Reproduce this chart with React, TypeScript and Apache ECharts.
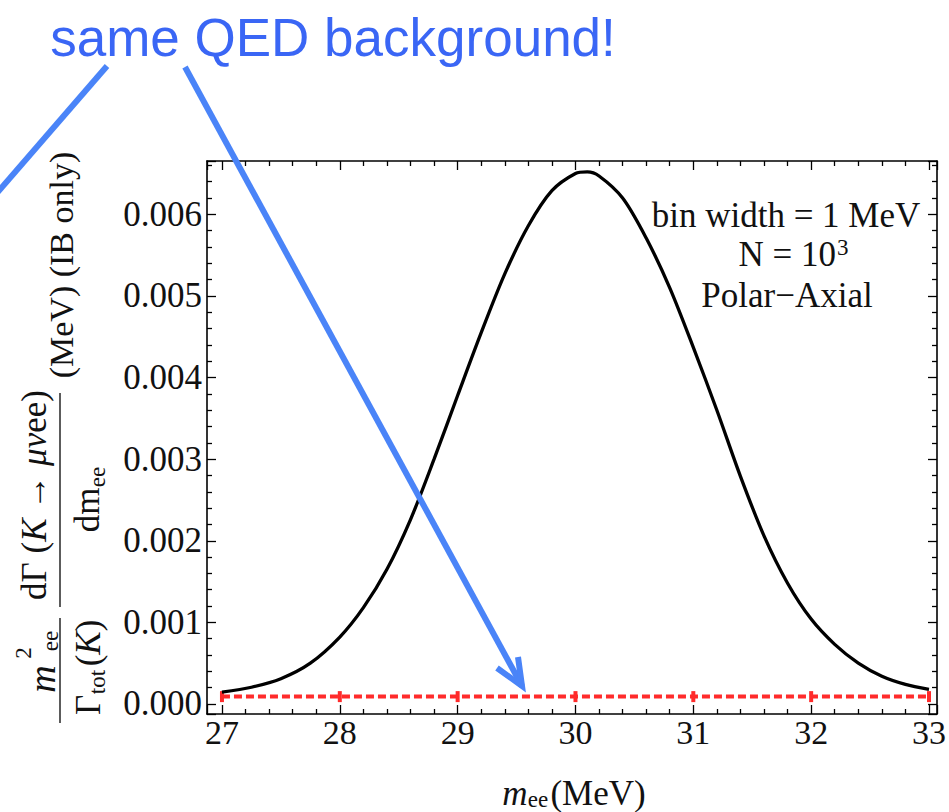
import React, { useEffect, useRef } from 'react';
import * as echarts from 'echarts';

// ---- data ----
const curveX = [27.0, 27.25, 27.5, 27.75, 28.0, 28.2, 28.4, 28.6, 28.8, 29.0, 29.2, 29.4, 29.6, 29.8, 30.0, 30.1, 30.2, 30.4, 30.6, 30.8, 31.0, 31.2, 31.4, 31.6, 31.8, 32.0, 32.2, 32.4, 32.6, 32.8, 33.0];
const curveY = [0.000145, 0.000205, 0.00031, 0.0005, 0.00082, 0.00118, 0.00165, 0.00226, 0.003, 0.00378, 0.00455, 0.00527, 0.00586, 0.00629, 0.0065, 0.00652, 0.00647, 0.0062, 0.00571, 0.0051, 0.00437, 0.0036, 0.00279, 0.00206, 0.00148, 0.00104, 0.00073, 0.0005, 0.00034, 0.00024, 0.00018];
const bgX = [27, 28, 29, 30, 31, 32, 33];
const bgY = [0.00009, 0.00009, 0.00009, 0.00009, 0.00009, 0.00009, 0.00009];
const xRange = [26.873, 33.068];
const yRange = [-0.000123, 0.006654];
const titleText = 'same QED background!';
const noteLines = ['bin width = 1 MeV', 'N = 10', '3', 'Polar\u2212Axial'];

const SERIF = '"Liberation Serif", "DejaVu Serif", serif';
const SANS = '"Liberation Sans", Arial, sans-serif';
const INK = '#111';
const R = Math.PI / 2;

function t(text: string, x: number, y: number, fs: number, o: any = {}) {
  return {
    type: 'text',
    x,
    y,
    rotation: o.rot || 0,
    z: 100,
    style: {
      text,
      font: `${o.italic ? 'italic ' : ''}${fs}px ${o.family || SERIF}`,
      fill: o.fill || INK,
      align: o.align || 'center',
      verticalAlign: 'middle',
      rich: o.rich,
    },
  };
}

function ln(x1: number, y1: number, x2: number, y2: number, w: number, c: string) {
  return { type: 'line', z: 100, shape: { x1, y1, x2, y2 }, style: { stroke: c, lineWidth: w } };
}

export default function App() {
  const ref = useRef<HTMLDivElement>(null);
  useEffect(() => {
    if (!ref.current) return;
    const chart = echarts.init(ref.current, undefined, { renderer: 'svg' });
    const tickStyle = { color: '#000', width: 1.3 };
    const axisCommon = {
      type: 'value',
      axisLine: { show: true, onZero: false, lineStyle: { color: '#000', width: 1.6 } },
      axisTick: { show: true, inside: true, length: 9, lineStyle: tickStyle },
      minorTick: { show: true, splitNumber: 5, length: 5, lineStyle: tickStyle },
      splitLine: { show: false },
      minorSplitLine: { show: false },
    };
    const isInt = (v: number, step: number) => Math.abs(v / step - Math.round(v / step)) < 1e-6;
    const BLUE = '#4a84f8';
    const rich = {
      a: { font: `35px ${SERIF}`, fill: INK },
      i: { font: `italic 35px ${SERIF}`, fill: INK },
    };
    chart.setOption({
      animation: false,
      backgroundColor: '#fff',
      grid: { left: 207, right: 12, top: 161, bottom: 98, containLabel: false },
      xAxis: [
        {
          ...axisCommon,
          position: 'bottom',
          min: xRange[0],
          max: xRange[1],
          splitNumber: 6,
          axisLabel: {
            show: true,
            margin: 1,
            fontSize: 34,
            fontFamily: SERIF,
            color: INK,
            formatter: (v: number) => (isInt(v, 1) ? String(Math.round(v)) : ''),
          },
        },
        {
          ...axisCommon,
          position: 'top',
          min: xRange[0],
          max: xRange[1],
          splitNumber: 6,
          axisLabel: { show: false },
        },
      ],
      yAxis: [
        {
          ...axisCommon,
          position: 'left',
          min: yRange[0],
          max: yRange[1],
          splitNumber: 6,
          axisLabel: {
            show: true,
            margin: 5,
            fontSize: 35,
            fontFamily: SERIF,
            color: INK,
            formatter: (v: number) => (isInt(v, 0.001) && v > -1e-9 ? v.toFixed(3) : ''),
          },
        },
        {
          ...axisCommon,
          position: 'right',
          min: yRange[0],
          max: yRange[1],
          splitNumber: 6,
          axisLabel: { show: false },
        },
      ],
      series: [
        {
          type: 'line',
          xAxisIndex: 0,
          yAxisIndex: 0,
          data: bgX.map((x, i) => [x, bgY[i]]),
          symbol: 'rect',
          symbolSize: [4, 11],
          showSymbol: true,
          itemStyle: { color: '#ff2b2b' },
          lineStyle: { color: '#ff2b2b', width: 4, type: [8, 4] },
          z: 2,
        },
        {
          type: 'line',
          xAxisIndex: 0,
          yAxisIndex: 0,
          data: curveX.map((x, i) => [x, curveY[i]]),
          smooth: 0.3,
          showSymbol: false,
          symbol: 'none',
          lineStyle: { color: '#000', width: 3.3 },
          z: 3,
        },
      ],
      graphic: [
        // y-axis title (rotated)
        t('(MeV) (IB only)', 61, 265, 34, { rot: R }),
        t('{a|d\u0393 (}{i|K}{a| \u2192 }{i|\u03bc\u03bd}{a|ee)}', 34, 495, 35, { rot: R, rich }),
        ln(60, 393, 60, 607, 1.6, '#333'),
        t('dm', 87, 510, 35, { rot: R }),
        t('ee', 97, 477, 23, { rot: R }),
        t('m', 42, 679, 38, { rot: R, italic: true }),
        t('2', 23, 653, 23, { rot: R }),
        t('ee', 50, 641, 23, { rot: R }),
        ln(60, 618, 60, 723, 1.6, '#333'),
        t('\u0393', 88, 705, 35, { rot: R }),
        t('tot', 97, 682, 23, { rot: R }),
        t('{a|(}{i|K}{a|)}', 88, 643, 35, { rot: R, rich }),
        // x-axis title
        t('m', 515, 793, 35, { italic: true }),
        t('ee', 538, 799, 23),
        t('(MeV)', 598, 793, 35),
        // annotation
        t(noteLines[0], 786, 215, 35),
        t(noteLines[1], 836, 254, 35, { align: 'right' }),
        t(noteLines[2], 837, 247, 23, { align: 'left' }),
        t(noteLines[3], 787, 295, 35),
        // blue overlay
        t(titleText, 333, 37, 53, { family: SANS, fill: '#3a66f5' }),
        ln(107, 66, -10, 201, 6, BLUE),
        ln(185, 67, 522, 686, 6, BLUE),
        {
          type: 'polyline',
          z: 100,
          shape: { points: [[497, 668], [522, 686], [518, 657]] },
          style: { stroke: BLUE, lineWidth: 6, fill: 'none' },
        },
      ],
    });
    return () => chart.dispose();
  }, []);
  return (
    <div
      ref={ref}
      style={{ position: 'fixed', left: 0, top: 0, width: 949, height: 812, background: '#fff' }}
    />
  );
}
